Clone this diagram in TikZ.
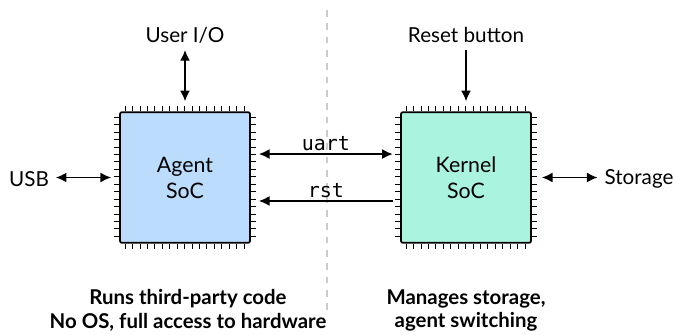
\documentclass[tikz,border=0pt]{standalone}
\usepackage{fontspec}
\setmainfont{Lato}
\newfontfamily\codefont{DejaVu Sans Mono}
\usetikzlibrary{arrows.meta,calc}
\definecolor{agentblue}{RGB}{187,220,252}
\definecolor{kernelgreen}{RGB}{170,243,222}
\tikzset{
  chip/.style={draw, line width=1.3pt, rounded corners=1.5pt, minimum width=97.5pt,
    minimum height=98pt, align=center, font=\fontsize{16}{19.5}\selectfont},
  pin/.style={line width=0.7pt},
  link/.style={line width=1.3pt, -{Latex[length=8pt,width=7.5pt]}},
  dlink/.style={link, {Latex[length=8pt,width=7.5pt]}-{Latex[length=8pt,width=7.5pt]}},
  lbl/.style={font=\fontsize{15.5}{18}\selectfont, inner sep=2pt},
  code/.style={font=\codefont\fontsize{15}{17}\selectfont, inner sep=2pt},
  note/.style={align=center, font=\bfseries\fontsize{15.3}{17.5}\selectfont}
}
\begin{document}
\begin{tikzpicture}[x=0.75pt,y=-0.75pt]
  \useasboundingbox (0,0) rectangle (675,335);
  \draw[gray!40, line width=0.8pt, dash pattern=on 5 off 5] (327,10) -- (327,315);
  \node[chip, fill=agentblue] (agent) at (185,177.5) {Agent\\SoC};
  \node[chip, fill=kernelgreen] (kernel) at (466,177.5) {Kernel\\SoC};
  \foreach \c in {agent,kernel}
    \foreach \i in {0,...,16} {
      \draw[pin] ($(\c.north west)+(6+\i*7.4375,0)$) -- ++(0,-5);
      \draw[pin] ($(\c.south west)+(6+\i*7.4375,0)$) -- ++(0,5);
      \draw[pin] ($(\c.north west)+(0,6+\i*7.4375)$) -- ++(-5,0);
      \draw[pin] ($(\c.north east)+(0,6+\i*7.4375)$) -- ++(5,0);
    }
  \node[lbl] (userio) at (185,35) {User I/O};
  \node[lbl] (reset) at (466,35) {Reset button};
  \node[lbl] (usb) at (29,179) {USB};
  \node[lbl] (storage) at (639,179) {Storage};
  \draw[dlink] ([yshift=-3pt]userio.south) -- ([yshift=7.5pt]agent.north);
  \draw[link] ([yshift=-3pt]reset.south) -- ([yshift=7.5pt]kernel.north);
  \draw[dlink] ([xshift=3pt]usb.east |- agent.west) -- ([xshift=-6pt]agent.west);
  \draw[dlink] ([xshift=7.5pt]kernel.east) -- ([xshift=-3pt]storage.west |- kernel.east);
  \draw[dlink] ([xshift=6pt,yshift=17.6pt]agent.east) -- node[above, code] {uart}
    ([xshift=-5.5pt,yshift=17.6pt]kernel.west);
  \draw[link] ([xshift=-5.5pt,yshift=-17.6pt]kernel.west) -- node[above, code] {rst}
    ([xshift=6pt,yshift=-17.6pt]agent.east);
  \node[note] (agentnote) at (188,310.5) {Runs third-party code\\No OS, full access to hardware};
  \node[note] (kernelnote) at (466,310.5) {Manages storage,\\agent switching};
\end{tikzpicture}
\end{document}
